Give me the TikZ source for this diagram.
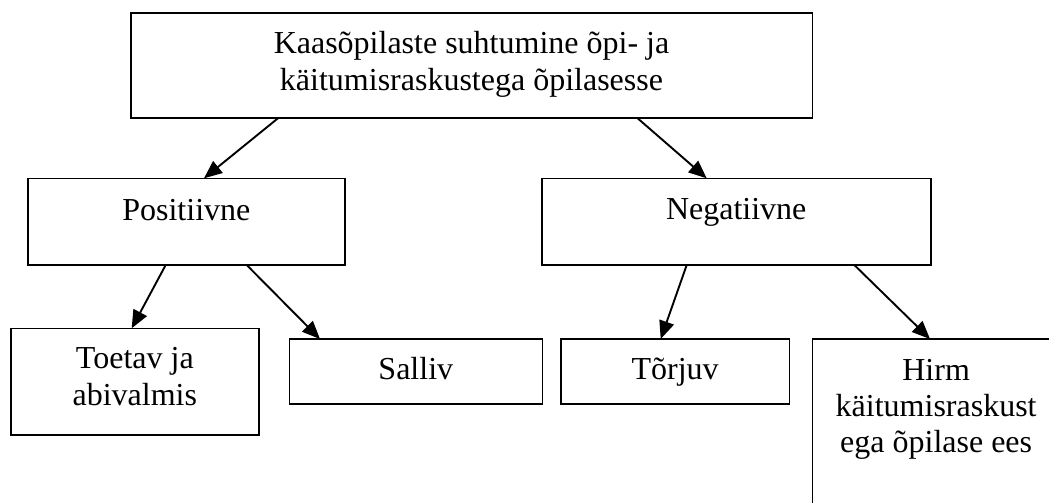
\documentclass[tikz,border=0pt]{standalone}
\usepackage{fontspec}
\setmainfont{Liberation Serif}
\usetikzlibrary{arrows.meta}
\tikzset{
  boxnode/.style={draw=black, line width=1.6pt, inner sep=0pt, outer sep=0pt, fill=white},
  txt/.style={anchor=base, inner sep=0pt, font=\fontsize{32}{36.5}\selectfont},
  conn/.style={line width=1.9pt, -{Triangle[length=18pt,width=15pt]}},
}
\begin{document}
\begin{tikzpicture}[x=1pt,y=-1pt]
\useasboundingbox (0,0) rectangle (1049,503);
\begin{scope}
\clip (0,0) rectangle (1049,503);
\fill[white] (0,0) rectangle (1049,503);
\node[boxnode, minimum width=681.6pt, minimum height=104.7pt] (top) at (471.5,65.65) {};
\node[boxnode, minimum width=317.3pt, minimum height=86.7pt] (pos) at (186.35,221.65) {};
\node[boxnode, minimum width=389pt, minimum height=86.7pt] (neg) at (736.2,221.65) {};
\node[boxnode, minimum width=248.3pt, minimum height=106.7pt] (toe) at (134.85,381.65) {};
\node[boxnode, minimum width=253pt, minimum height=65pt] (sal) at (415.8,371.5) {};
\node[boxnode, minimum width=228.3pt, minimum height=65pt] (tor) at (675.15,371.5) {};
\node[boxnode, minimum width=247.7pt, minimum height=181pt] (hir) at (936.15,429.5) {};

\node[txt] (top1) at (471.5,53.5) {Kaasõpilaste suhtumine õpi- ja};
\node[txt] (top2) at (471.5,90) {käitumisraskustega õpilasesse};
\node[txt] (post) at (186.35,220) {Positiivne};
\node[txt] (negt) at (736.2,219.5) {Negatiivne};
\node[txt] (toe1) at (134.85,368.3) {Toetav ja};
\node[txt] (toe2) at (134.85,405) {abivalmis};
\node[txt] (salt) at (415.8,379) {Salliv};
\node[txt] (tort) at (675.15,379) {Tõrjuv};
\node[txt] (hir1) at (936.15,380) {Hirm};
\node[txt] (hir2) at (936.15,416.7) {käitumisraskust};
\node[txt] (hir3) at (936.15,452) {ega õpilase ees};

\draw[conn] ([xshift=147.6pt]top.south west) -- ([xshift=176.3pt]pos.north west);
\draw[conn] ([xshift=506.6pt]top.south west) -- ([xshift=165pt]neg.north west);
\draw[conn] ([xshift=138pt]pos.south west) -- ([xshift=121pt]toe.north west);
\draw[conn] ([xshift=219pt]pos.south west) -- ([xshift=30.7pt]sal.north west);
\draw[conn] ([xshift=145pt]neg.south west) -- ([xshift=99.7pt]tor.north west);
\draw[conn] ([xshift=312.6pt]neg.south west) -- ([xshift=117.7pt]hir.north west);
\end{scope}
\end{tikzpicture}
\end{document}
